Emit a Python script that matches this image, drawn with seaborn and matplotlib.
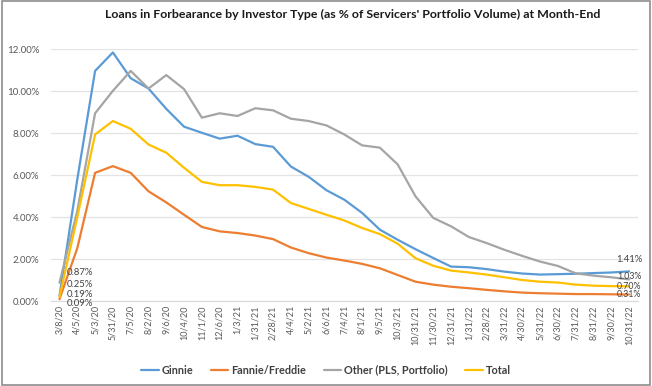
import numpy as np
import pandas as pd
import matplotlib.pyplot as plt
import matplotlib.patches as patches
import seaborn as sns

dates = ['3/8/20', '4/5/20', '5/3/20', '5/31/20', '7/5/20', '8/2/20', '9/6/20', '10/4/20',
         '11/1/20', '12/6/20', '1/3/21', '1/31/21', '2/28/21', '4/4/21', '5/2/21', '6/6/21',
         '7/4/21', '8/1/21', '9/5/21', '10/3/21', '10/31/21', '11/30/21', '12/31/21', '1/31/22',
         '2/28/22', '3/31/22', '4/30/22', '5/31/22', '6/30/22', '7/31/22', '8/31/22', '9/30/22',
         '10/31/22']

ginnie = [0.25, 5.80, 10.97, 11.85, 10.62, 10.13, 9.16, 8.31, 8.02, 7.74, 7.88, 7.48, 7.35,
          6.41, 5.92, 5.28, 4.83, 4.20, 3.40, 2.92, 2.47, 2.05, 1.64, 1.61, 1.52, 1.40, 1.31,
          1.26, 1.28, 1.30, 1.33, 1.36, 1.41]
fannie_freddie = [0.09, 2.52, 6.11, 6.43, 6.11, 5.23, 4.70, 4.11, 3.53, 3.32, 3.24, 3.12, 2.95,
                  2.55, 2.28, 2.07, 1.93, 1.77, 1.56, 1.24, 0.92, 0.78, 0.68, 0.61, 0.53, 0.46,
                  0.40, 0.37, 0.35, 0.33, 0.33, 0.32, 0.31]
other = [0.87, 4.30, 8.95, 10.02, 10.97, 10.13, 10.77, 10.10, 8.74, 8.95, 8.82, 9.19, 9.09,
         8.69, 8.58, 8.37, 7.94, 7.42, 7.31, 6.51, 4.99, 3.96, 3.56, 3.05, 2.76, 2.44, 2.15,
         1.88, 1.67, 1.32, 1.21, 1.13, 1.03]
total = [0.19, 4.00, 7.94, 8.58, 8.21, 7.46, 7.07, 6.35, 5.68, 5.52, 5.52, 5.44, 5.31, 4.67,
         4.39, 4.11, 3.84, 3.48, 3.19, 2.73, 2.04, 1.68, 1.45, 1.36, 1.26, 1.13, 1.00, 0.92,
         0.88, 0.78, 0.73, 0.71, 0.70]

series_names = ['Ginnie', 'Fannie/Freddie', 'Other (PLS, Portfolio)', 'Total']
series_vals = [ginnie, fannie_freddie, other, total]
colors = ['#5B9BD5', '#ED7D31', '#A5A5A5', '#FFC000']

df = pd.concat([pd.DataFrame({'idx': range(len(dates)), 'value': v, 'series': n})
                for n, v in zip(series_names, series_vals)])

sns.set_style('white')
plt.rcParams['font.family'] = ['Lato', 'DejaVu Sans']

fig = plt.figure(figsize=(6.52, 3.86), dpi=100)
fig.patches.append(patches.Rectangle((0.003, 0.003), 0.994, 0.994, transform=fig.transFigure,
                                     fill=False, edgecolor='#8C8C8C', linewidth=1.2))
ax = fig.add_axes([0.0776, 0.2202, 0.9009, 0.6521])

sns.lineplot(data=df, x='idx', y='value', hue='series', hue_order=series_names,
             palette=colors, linewidth=1.6, ax=ax)

ax.set_xlim(-0.5, len(dates) - 0.5)
ax.set_ylim(0, 12)
ax.set_yticks(np.arange(0, 12.1, 2))
ax.set_yticklabels([f'{t:.2f}%' for t in np.arange(0, 12.1, 2)], fontsize=7, color='#595959')
ax.set_xticks(range(len(dates)))
ax.set_xticklabels(dates, rotation=90, fontsize=6.5, color='#595959')
ax.tick_params(axis='both', length=0, pad=3)
ax.tick_params(axis='y', pad=8)
ax.grid(axis='y', color='#E3E3E3', linewidth=0.9)
ax.set_axisbelow(True)
for s in ['top', 'right', 'left']:
    ax.spines[s].set_visible(False)
ax.spines['bottom'].set_color('#D9D9D9')
ax.set_xlabel('')
ax.set_ylabel('')

# first-point labels (order: Ginnie, Fannie/Freddie, Other, Total)
start_offsets = [(7, 11), (7, -4), (7, 10), (7, 3)]
for v, off in zip(series_vals, start_offsets):
    ax.annotate(f'{v[0]:.2f}%', xy=(0, v[0]), xytext=off, textcoords='offset pixels',
                ha='left', va='center', fontsize=6.8, color='#404040')
# last-point labels
end_offsets = [(0, 12), (0, 0), (0, 3), (0, 0)]
end_sizes = [6.8, 6.3, 6.3, 6.3]
for v, off, fs in zip(series_vals, end_offsets, end_sizes):
    ax.annotate(f'{v[-1]:.2f}%', xy=(len(dates) - 1, v[-1]), xytext=off, textcoords='offset pixels',
                ha='center', va='center', fontsize=fs, color='#404040')

fig.text(0.541, 0.962, "Loans in Forbearance by Investor Type (as % of Servicers' Portfolio Volume) at Month-End",
         ha='center', va='center', fontsize=8.9, fontweight='bold', color='#1A1A1A')

handles, labels = ax.get_legend_handles_labels()
ax.legend(handles, labels, loc='center', bbox_to_anchor=(0.5, 0.041), bbox_transform=fig.transFigure,
          ncol=4, frameon=False, handlelength=1.6, handletextpad=0.3, columnspacing=1.6,
          prop={'size': 7.8, 'weight': 'bold'})
for t in ax.get_legend().get_texts():
    t.set_color('#404040')

fig.savefig('out.png', dpi=100)
